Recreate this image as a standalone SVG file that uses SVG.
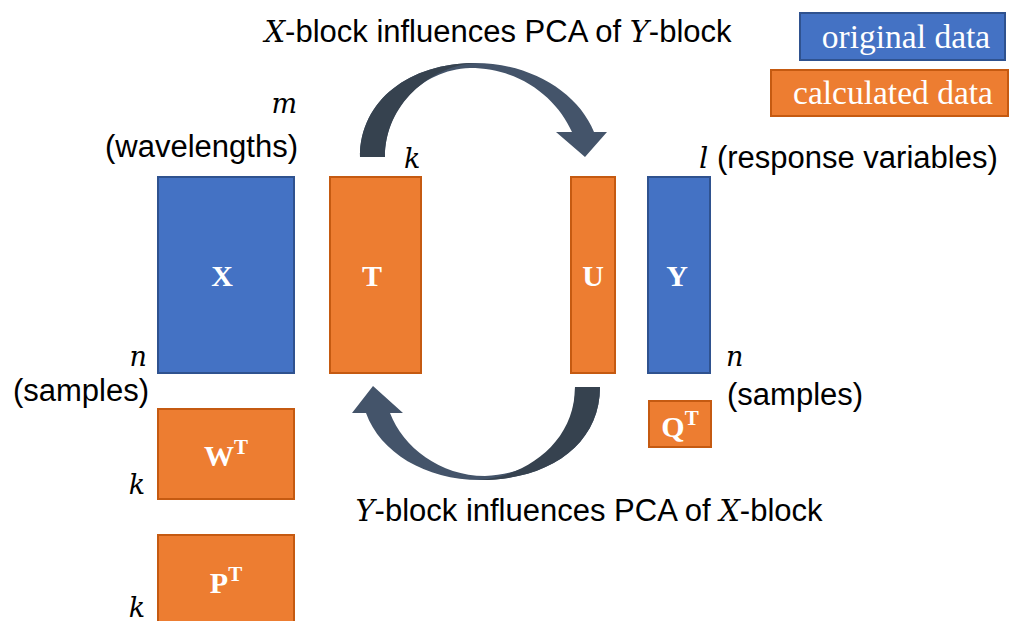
<svg xmlns="http://www.w3.org/2000/svg" width="1012" height="621" viewBox="0 0 1012 621">
<style>
.blue{fill:#4472C4;stroke:#2F528F;stroke-width:2}
.orange{fill:#ED7D31;stroke:#C55A11;stroke-width:2}
.lbl{font-family:"Liberation Serif",serif;font-weight:bold;fill:#fff;font-size:30px;text-anchor:middle}
.sup{font-size:21px}
.sans{font-family:"Liberation Sans",Arial,sans-serif;font-size:31px;fill:#000}
.math{font-family:"DejaVu Serif","Liberation Serif",serif;font-style:italic;font-size:27px;fill:#000}
.mi{font-family:"DejaVu Serif","Liberation Serif",serif;font-style:italic;font-size:29px}
.leg{font-family:"Liberation Serif",serif;font-size:33.5px;fill:#fff;text-anchor:middle}
.arr{fill:#44546A}
.arrd{fill:#36424F}
</style>
<rect width="1012" height="621" fill="#fff"/>
<g id="connectors">
<g id="arrow-top">
<path class="arr" d="M360 157 C360 100 410 63 475 63 C530 63 578 92 594 132 L607 132 L585 157 L556 132 L572 132 C557 98 520 68 470 68 C420 70 385 110 385 157 Z"/>
<path class="arrd" d="M360 157 C360 100 410 63 475 63 C430 66 385 105 385 157 Z"/>
</g>
<g id="arrow-bottom">
<path class="arr" d="M600 387 C600 444 550 480 480 480 C425 480 380 452 366 413 L352 413 L373 386 L403 413 L390 413 C403 447 440 476 485 476 C540 474 575 440 575 387 Z"/>
<path class="arrd" d="M600 387 C600 444 550 480 480 480 C530 475 575 440 575 387 Z"/>
</g>
</g>
<g id="legend-original"><rect class="blue" x="800" y="13" width="205" height="47"/><text class="leg" x="906" y="48">original data</text></g>
<g id="legend-calculated"><rect class="orange" x="771" y="70" width="237" height="46"/><text class="leg" x="893" y="104">calculated data</text></g>
<g id="node-X"><rect class="blue" x="158" y="177" width="136" height="196"/><text class="lbl" x="222" y="286">X</text></g>
<g id="node-T"><rect class="orange" x="330" y="177" width="91" height="196"/><text class="lbl" x="372" y="286">T</text></g>
<g id="node-U"><rect class="orange" x="571" y="177" width="44" height="196"/><text class="lbl" x="593" y="286">U</text></g>
<g id="node-Y"><rect class="blue" x="648" y="177" width="62" height="196"/><text class="lbl" x="677" y="286">Y</text></g>
<g id="node-WT"><rect class="orange" x="158" y="409" width="136" height="90"/><text class="lbl" x="226" y="466">W<tspan class="sup" dy="-12">T</tspan></text></g>
<g id="node-PT"><rect class="orange" x="158" y="535" width="136" height="95"/><text class="lbl" x="226" y="593">P<tspan class="sup" dy="-12">T</tspan></text></g>
<g id="node-QT"><rect class="orange" x="649" y="401" width="62" height="46"/><text class="lbl" x="680" y="437">Q<tspan class="sup" dy="-12">T</tspan></text></g>
<g id="labels">
<text class="sans" x="498" y="42" text-anchor="middle"><tspan class="mi">X</tspan>-block influences PCA of <tspan class="mi">Y</tspan>-block</text>
<text class="sans" x="589" y="521" text-anchor="middle"><tspan class="mi">Y</tspan>-block influences PCA of <tspan class="mi">X</tspan>-block</text>
<text class="math" x="297" y="113" text-anchor="end">m</text>
<text class="sans" x="298" y="157" text-anchor="end">(wavelengths)</text>
<text class="math" x="404" y="168">k</text>
<text class="sans" x="699" y="168"><tspan class="mi">l</tspan> (response variables)</text>
<text class="math" x="147" y="366" text-anchor="end">n</text>
<text class="sans" x="149" y="401" text-anchor="end">(samples)</text>
<text class="math" x="145" y="494" text-anchor="end">k</text>
<text class="math" x="145" y="617" text-anchor="end">k</text>
<text class="math" x="726" y="366">n</text>
<text class="sans" x="727" y="405">(samples)</text>
</g>
</svg>
